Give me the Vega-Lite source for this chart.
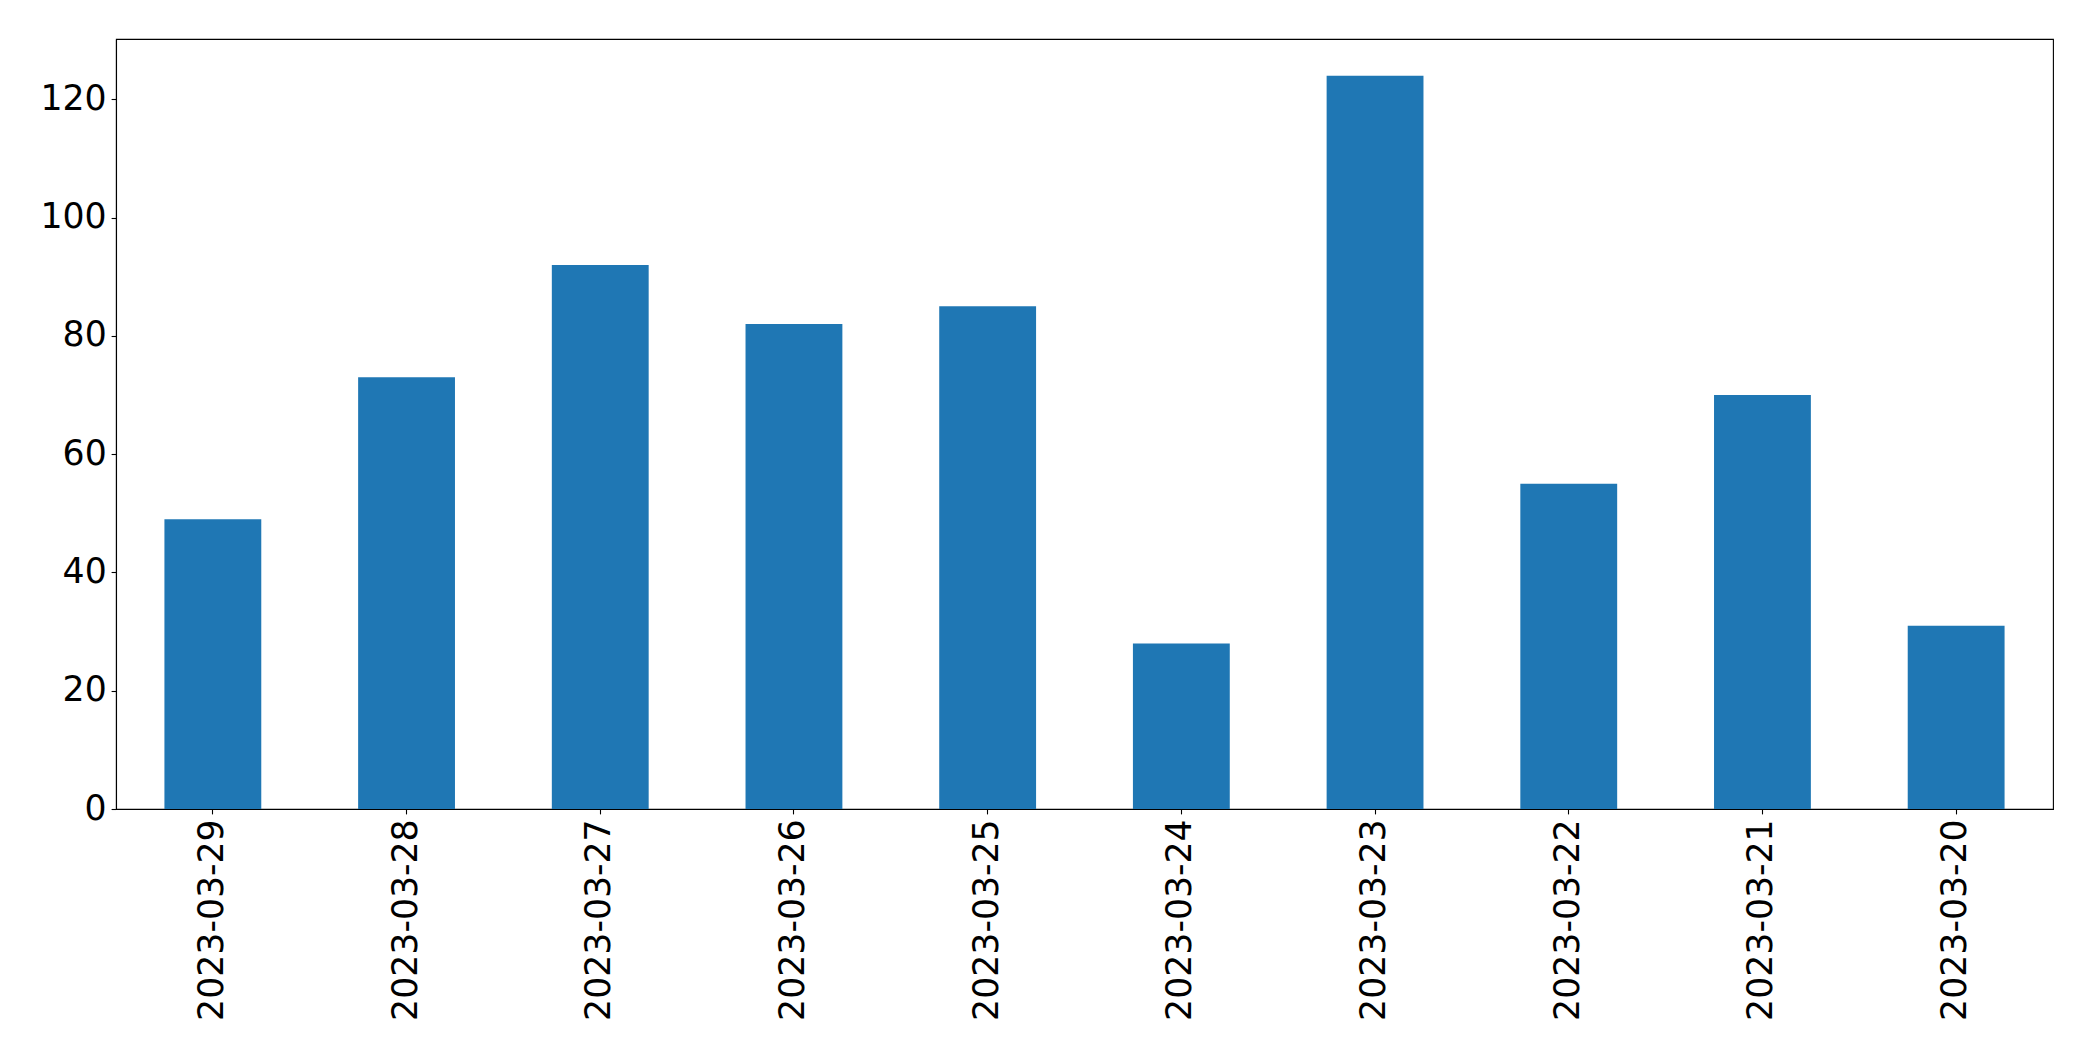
{
  "$schema": "https://vega.github.io/schema/vega-lite/v6.json",
  "width": 1937,
  "height": 770,
  "autosize": {"type": "none"},
  "padding": {"left": 116, "top": 39, "right": 40, "bottom": 252},
  "background": "white",
  "config": {
    "view": {"stroke": "black", "strokeWidth": 1.1},
    "font": "DejaVu Sans",
    "axis": {
      "labelFont": "DejaVu Sans",
      "labelFontSize": 34.7,
      "labelColor": "black",
      "labelLimit": 0,
      "tickColor": "black",
      "tickSize": 4.9,
      "tickWidth": 1.1,
      "domainColor": "black",
      "domainWidth": 1.1,
      "labelPadding": 4.9,
      "grid": false,
      "title": null
    }
  },
  "data": {
    "values": [
      {"date": "2023-03-29", "count": 49},
      {"date": "2023-03-28", "count": 73},
      {"date": "2023-03-27", "count": 92},
      {"date": "2023-03-26", "count": 82},
      {"date": "2023-03-25", "count": 85},
      {"date": "2023-03-24", "count": 28},
      {"date": "2023-03-23", "count": 124},
      {"date": "2023-03-22", "count": 55},
      {"date": "2023-03-21", "count": 70},
      {"date": "2023-03-20", "count": 31}
    ]
  },
  "mark": {"type": "bar", "color": "#1f77b4"},
  "encoding": {
    "x": {
      "field": "date",
      "type": "nominal",
      "sort": null,
      "scale": {"paddingInner": 0.5, "paddingOuter": 0.25},
      "axis": {"labelAngle": -90, "title": null}
    },
    "y": {
      "field": "count",
      "type": "quantitative",
      "scale": {"domain": [0, 130.2], "nice": false, "zero": true},
      "axis": {"values": [0, 20, 40, 60, 80, 100, 120], "title": null}
    }
  }
}
